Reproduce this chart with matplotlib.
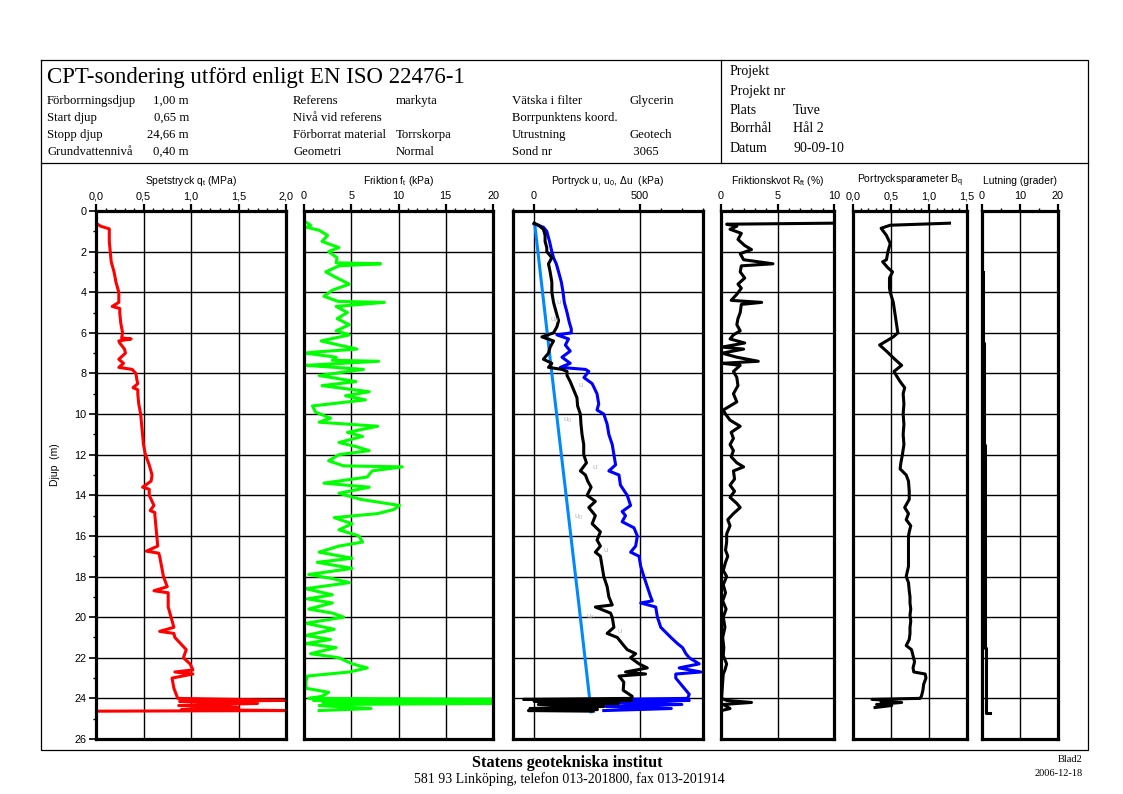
import matplotlib
matplotlib.use("Agg")
import matplotlib.pyplot as plt
import numpy as np

W, H = 1123, 794

# Spetstryck qt (MPa)
qt_depth = [0.60, 0.75, 0.88, 1.0, 1.5, 2.0, 2.5, 3.0, 3.5, 4.0, 4.5, 4.7, 4.8, 5.0, 5.5, 6.0,
            6.25, 6.3, 6.4, 6.5, 6.8, 7.0, 7.3, 7.5, 7.7, 7.8, 8.0, 8.3, 8.5, 8.7, 8.8, 9.0,
            9.5, 10.0, 10.5, 11.0, 11.5, 12.0, 12.5, 13.0, 13.3, 13.6, 13.7, 14.0, 14.5, 14.75,
            14.85, 15.0, 15.5, 16.0, 16.5, 16.75, 16.85, 17.0, 17.5, 18.0, 18.5, 18.7, 18.8,
            19.0, 19.5, 20.0, 20.5, 20.7, 20.8, 21.0, 21.3, 21.6, 22.0, 22.3, 22.6, 22.7, 22.8,
            23.0, 23.5, 24.0, 24.1, 24.15, 24.25, 24.35, 24.45, 24.55, 24.6, 24.63]
qt_value = [0.00, 0.05, 0.14, 0.14, 0.14, 0.15, 0.16, 0.19, 0.21, 0.24, 0.24, 0.17, 0.25, 0.25,
            0.26, 0.28, 0.27, 0.37, 0.24, 0.25, 0.30, 0.31, 0.24, 0.29, 0.24, 0.38, 0.42, 0.43,
            0.44, 0.39, 0.44, 0.44, 0.45, 0.47, 0.48, 0.49, 0.50, 0.52, 0.56, 0.59, 0.58, 0.49,
            0.56, 0.56, 0.61, 0.57, 0.62, 0.62, 0.63, 0.64, 0.65, 0.53, 0.66, 0.67, 0.69, 0.71,
            0.75, 0.61, 0.76, 0.76, 0.76, 0.79, 0.82, 0.67, 0.82, 0.83, 0.89, 0.95, 0.92, 0.99,
            1.02, 0.83, 1.02, 0.80, 0.82, 0.86, 2.00, 0.88, 1.70, 0.87, 1.50, 0.90, 2.00, 0.00]

# Friktion ft (kPa)
ft_depth = [0.55, 0.70, 0.80, 0.95, 1.20, 1.50, 1.80, 2.00, 2.30, 2.55, 2.60, 2.70, 3.00, 3.30,
            3.60, 3.90, 4.20, 4.45, 4.50, 4.70, 5.00, 5.30, 5.60, 5.90, 6.10, 6.40, 6.60, 6.80,
            6.95, 7.00, 7.20, 7.35, 7.40, 7.60, 7.80, 8.10, 8.40, 8.60, 8.90, 9.10, 9.30, 9.60,
            9.90, 10.20, 10.40, 10.60, 10.90, 11.10, 11.40, 11.60, 11.80, 12.00, 12.30, 12.55,
            12.60, 12.80, 13.10, 13.40, 13.60, 13.90, 14.20, 14.50, 14.70, 14.90, 15.10, 15.40,
            15.70, 16.00, 16.30, 16.50, 16.80, 17.10, 17.30, 17.60, 17.90, 18.10, 18.30, 18.60,
            18.90, 19.10, 19.30, 19.60, 19.80, 20.00, 20.30, 20.60, 20.90, 21.10, 21.30, 21.50,
            21.80, 22.00, 22.30, 22.50, 22.70, 22.90, 23.20, 23.50, 23.70, 23.90, 24.00, 24.05,
            24.10, 24.15, 24.20, 24.25, 24.30, 24.35, 24.50, 24.60]
ft_value = [0.2, 0.7, 0.3, 1.6, 2.5, 1.9, 3.7, 2.6, 3.5, 3.4, 8.1, 3.7, 2.3, 3.5, 4.8, 3.0, 2.1,
            3.6, 8.5, 3.4, 4.6, 3.5, 4.8, 3.4, 4.8, 1.8, 3.7, 5.6, 1.0, 0.2, 3.4, 3.0, 7.9, 0.2,
            6.3, 1.6, 5.5, 1.9, 6.9, 4.4, 6.5, 0.9, 1.2, 2.8, 1.6, 7.8, 4.6, 6.2, 3.7, 5.5, 6.9,
            3.7, 2.6, 4.2, 10.4, 7.2, 6.7, 2.1, 6.9, 3.7, 6.0, 10.1, 9.5, 7.8, 3.2, 5.1, 3.7,
            5.8, 6.2, 3.7, 1.6, 5.1, 1.4, 5.1, 0.5, 3.0, 4.8, 0.2, 3.0, 0.35, 3.0, 0.5, 3.0,
            4.2, 0.2, 3.2, 0.2, 2.8, 0.2, 3.4, 0.7, 3.7, 5.1, 6.7, 4.8, 0.35, 0.2, 0.2, 2.6,
            1.9, 0.5, 20.0, 1.0, 20.0, 2.0, 20.0, 3.0, 1.6, 7.1, 1.6]

# Portryck u (kPa)
u_depth = [0.63, 0.80, 1.00, 1.50, 2.00, 2.30, 2.60, 3.00, 3.50, 4.00, 4.50, 5.00, 5.50, 5.80,
           6.00, 6.10, 6.30, 6.60, 6.90, 7.20, 7.50, 7.70, 7.80, 7.90, 8.20, 8.50, 9.00, 9.50,
           9.80, 10.00, 10.50, 11.00, 11.50, 12.00, 12.50, 12.80, 13.00, 13.50, 14.00, 14.50,
           14.80, 15.00, 15.30, 15.60, 16.00, 16.50, 16.80, 17.00, 17.50, 18.00, 18.50, 19.00,
           19.20, 19.30, 19.50, 20.00, 20.50, 21.00, 21.30, 21.50, 21.80, 22.00, 22.30, 22.50,
           22.70, 22.80, 23.00, 23.30, 23.60, 23.80, 24.00, 24.05, 24.10, 24.20, 24.30, 24.40,
           24.50, 24.60]
u_value = [0, 44, 60, 73, 84, 92, 105, 116, 129, 137, 143, 156, 167, 176, 176, 108, 163, 148,
           171, 132, 171, 124, 243, 259, 236, 275, 298, 306, 298, 330, 346, 354, 370, 378, 386,
           354, 402, 409, 441, 457, 417, 433, 417, 473, 489, 481, 457, 497, 505, 520, 536, 552,
           560, 505, 576, 584, 600, 648, 679, 703, 719, 735, 782, 687, 790, 671, 671, 695, 719,
           735, 727, 340, 735, 350, 700, 340, 650, 330]

# Portryck, svart kurva (kPa)
du_depth = [0.60, 0.70, 0.90, 1.20, 1.50, 1.80, 2.00, 2.30, 2.60, 3.00, 3.50, 4.00, 4.50, 5.00,
            5.40, 5.70, 6.00, 6.20, 6.40, 6.70, 7.00, 7.30, 7.50, 7.70, 7.80, 7.90, 8.10, 8.40,
            8.80, 9.20, 9.60, 10.00, 10.50, 11.00, 11.50, 12.00, 12.40, 12.80, 13.00, 13.30,
            13.60, 14.00, 14.30, 14.60, 15.00, 15.40, 15.80, 16.20, 16.50, 16.80, 17.00, 17.50,
            18.00, 18.50, 19.00, 19.40, 19.50, 19.80, 20.00, 20.50, 20.80, 21.00, 21.30, 21.60,
            21.80, 22.00, 22.30, 22.50, 22.70, 22.80, 22.90, 23.20, 23.60, 23.90, 24.00, 24.05,
            24.10, 24.15, 24.25, 24.30, 24.40, 24.50, 24.55, 24.60, 24.63]
du_value = [0, 21, 44, 52, 52, 60, 60, 84, 68, 76, 84, 84, 92, 105, 116, 108, 92, 37, 92, 76,
            68, 44, 84, 68, 132, 156, 156, 171, 187, 203, 206, 219, 222, 227, 235, 235, 248,
            219, 243, 254, 270, 251, 290, 259, 290, 275, 314, 298, 314, 290, 314, 322, 330, 346,
            354, 370, 290, 362, 370, 378, 346, 394, 417, 441, 481, 457, 497, 536, 433, 528, 402,
            425, 422, 465, 460, -50, 460, 0, 400, 20, 330, -20, 300, -27, 280]

# u0 (kPa)
u0_depth = [0.65, 8.0, 20.0, 24.66]
u0_value = [3, 84, 219, 270]

# Friktionskvot Rft (%)
rf_depth = [0.60, 0.65, 0.75, 0.90, 1.10, 1.40, 1.70, 1.90, 2.10, 2.40, 2.60, 2.70, 3.00, 3.30,
            3.60, 3.80, 4.10, 4.40, 4.50, 4.60, 5.00, 5.30, 5.60, 5.90, 6.10, 6.30, 6.50, 6.70,
            6.80, 7.00, 7.20, 7.40, 7.50, 7.60, 7.90, 8.20, 8.60, 9.00, 9.40, 9.80, 10.00,
            10.30, 10.60, 10.90, 11.20, 11.50, 11.80, 12.10, 12.40, 12.60, 12.80, 13.20, 13.50,
            13.80, 14.10, 14.40, 14.60, 14.90, 15.20, 15.50, 15.90, 16.30, 16.70, 17.00, 17.30,
            17.70, 18.00, 18.40, 18.80, 19.20, 19.60, 20.00, 20.50, 21.00, 21.50, 21.90, 22.30,
            22.60, 22.80, 23.20, 23.60, 24.00, 24.10, 24.20, 24.30, 24.50, 24.60]
rf_value = [9.9, 0.5, 1.4, 0.8, 1.8, 1.5, 2.1, 2.7, 1.7, 2.0, 4.6, 1.8, 1.7, 2.1, 1.5, 1.8, 1.4,
            0.9, 3.6, 1.8, 1.7, 1.5, 1.4, 1.7, 1.1, 0.8, 2.1, 0.1, 2.0, 0.1, 1.4, 3.3, 0.1, 1.7,
            1.1, 1.4, 1.5, 1.1, 1.4, 0.2, 0.4, 0.8, 1.7, 0.9, 1.1, 0.8, 1.1, 0.9, 1.4, 2.0, 1.1,
            1.2, 0.8, 1.2, 0.8, 1.4, 1.7, 1.1, 0.6, 0.8, 0.5, 0.5, 0.4, 0.6, 0.4, 0.2, 0.5, 0.2,
            0.4, 0.15, 0.45, 0.2, 0.35, 0.15, 0.25, 0.2, 0.5, 0.35, 0.2, 0.15, 0.1, 0.05, 0.5,
            2.7, 0.2, 0.8, 0.05]

# Portrycksparameter Bq (-)
bq_depth = [0.60, 0.70, 0.85, 1.20, 1.60, 2.00, 2.40, 2.50, 2.80, 3.00, 3.30, 3.80, 4.00, 4.50,
            5.00, 5.50, 6.00, 6.20, 6.60, 6.90, 7.30, 7.60, 7.90, 8.10, 8.40, 8.70, 9.00, 9.50,
            10.00, 10.50, 11.00, 11.50, 12.00, 12.40, 12.70, 13.00, 13.30, 13.80, 14.20, 14.60,
            14.90, 15.20, 15.50, 15.80, 16.00, 16.50, 17.00, 17.50, 18.00, 18.30, 18.70, 19.00,
            19.30, 19.60, 19.90, 20.20, 20.50, 20.80, 21.10, 21.40, 21.60, 21.90, 22.20, 22.50,
            22.70, 22.80, 23.00, 23.30, 23.60, 23.90, 24.00, 24.05, 24.10, 24.15, 24.20, 24.30,
            24.35, 24.45]
bq_value = [1.27, 0.49, 0.37, 0.44, 0.49, 0.46, 0.44, 0.39, 0.46, 0.52, 0.48, 0.48, 0.49, 0.53,
            0.55, 0.57, 0.59, 0.53, 0.35, 0.44, 0.55, 0.64, 0.54, 0.57, 0.62, 0.68, 0.66, 0.67,
            0.66, 0.67, 0.66, 0.67, 0.65, 0.63, 0.62, 0.70, 0.73, 0.74, 0.74, 0.68, 0.73, 0.70,
            0.76, 0.74, 0.73, 0.73, 0.73, 0.73, 0.70, 0.73, 0.74, 0.75, 0.75, 0.76, 0.75, 0.76,
            0.75, 0.75, 0.74, 0.70, 0.77, 0.79, 0.81, 0.79, 0.80, 0.95, 0.96, 0.93, 0.92, 0.90,
            0.88, 0.25, 0.48, 0.37, 0.64, 0.31, 0.51, 0.29]

# Lutning (grader)
lut_depth = [3.0, 6.5, 6.5, 11.5, 11.5, 16.6, 16.6, 21.5, 21.5, 24.7, 24.7]
lut_value = [0.2, 0.2, 0.4, 0.4, 0.7, 0.7, 0.9, 0.9, 1.15, 1.15, 2.2]

# grå etiketter i portrycksdiagrammet
u_tags = ["u", "u$_0$", "u", "u$_0$", "u", "u$_0$", "u", "u$_0$", "u"]
u_tag_val = [108, 76, 211, 135, 275, 187, 330, 246, 394]
u_tag_depth = [4.5, 5.4, 8.6, 10.3, 12.65, 15.1, 16.7, 20.0, 20.7]

SANS = ["Liberation Sans", "DejaVu Sans"]
SERIF = ["Liberation Serif", "DejaVu Serif"]


def panel(fig, x0, x1, xlim, major, labels, minor, title, first=False):
    y0, y1 = 211, 739
    ax = fig.add_axes([x0 / W, 1 - y1 / H, (x1 - x0) / W, (y1 - y0) / H])
    ax.set_xlim(*xlim)
    ax.set_ylim(26, 0)
    ax.xaxis.tick_top()
    ax.set_xticks(major)
    ax.set_xticklabels(labels, family=SANS)
    ax.set_xticks(minor, minor=True)
    ax.set_yticks(np.arange(0, 27, 2))
    ax.grid(True, which="major", color="k", lw=1.0)
    ax.tick_params(axis="x", which="major", direction="out", length=5, width=1.6,
                   pad=2, labelsize=7.8)
    ax.tick_params(axis="x", which="minor", direction="out", length=2.5, width=1.0)
    for s in ax.spines.values():
        s.set_linewidth(2.3)
    if first:
        ax.set_yticks(np.arange(1, 26, 2), minor=True)
        ax.set_yticklabels([str(v) for v in range(0, 27, 2)], family=SANS)
        ax.tick_params(axis="y", which="major", direction="out", length=5, width=1.2,
                       pad=2, labelsize=7.8)
        ax.tick_params(axis="y", which="minor", direction="out", length=2.5, width=1.0)
    else:
        ax.tick_params(axis="y", which="both", left=False, labelleft=False)
    ax.text(0.5, 1 + 30 / 528, title, transform=ax.transAxes, ha="center", va="center",
            fontsize=7.5, family=SANS)
    return ax


def main():
    plt.rcParams["mathtext.fontset"] = "custom"
    plt.rcParams["mathtext.rm"] = "Liberation Sans"
    plt.rcParams["mathtext.default"] = "regular"

    fig = plt.figure(figsize=(W / 100, H / 100), dpi=100)

    # bakgrund i pixelkoordinater
    bg = fig.add_axes([0, 0, 1, 1])
    bg.set_xlim(0, W)
    bg.set_ylim(H, 0)
    bg.axis("off")
    bg.plot([41, 1088, 1088, 41, 41], [60, 60, 750, 750, 60], color="k", lw=0.9)
    bg.plot([41, 1088], [163, 163], color="k", lw=0.9)
    bg.plot([721, 721], [60, 163], color="k", lw=0.9)

    bg.text(47, 77, "CPT-sondering utförd enligt EN ISO 22476-1", fontsize=16.5,
            family=SERIF, va="center")
    rows = [101, 118, 135, 152]
    col1 = ["Förborrningsdjup", "Start djup", "Stopp djup", "Grundvattennivå"]
    col1v = ["1,00 m", "0,65 m", "24,66 m", "0,40 m"]
    col2 = ["Referens", "Nivå vid referens", "Förborrat material", "Geometri"]
    col2v = ["markyta", "", "Torrskorpa", "Normal"]
    col3 = ["Vätska i filter", "Borrpunktens koord.", "Utrustning", "Sond nr"]
    col3v = ["Glycerin", "", "Geotech", " 3065"]
    fs = 9.2
    for i, y in enumerate(rows):
        bg.text(47, y, col1[i], fontsize=fs, family=SERIF, va="center")
        bg.text(189, y, col1v[i], fontsize=fs, family=SERIF, va="center", ha="right")
        bg.text(293, y, col2[i], fontsize=fs, family=SERIF, va="center")
        bg.text(396, y, col2v[i], fontsize=fs, family=SERIF, va="center")
        bg.text(512, y, col3[i], fontsize=fs, family=SERIF, va="center")
        bg.text(630, y, col3v[i], fontsize=fs, family=SERIF, va="center")

    right_lab = ["Projekt", "Projekt nr", "Plats", "Borrhål", "Datum"]
    right_val = ["", "", "Tuve", "Hål 2", "90-09-10"]
    for i, y in enumerate([72, 91, 110, 129, 148]):
        bg.text(730, y, right_lab[i], fontsize=10, family=SERIF, va="center")
        bg.text(793, y, right_val[i], fontsize=10, family=SERIF, va="center")

    bg.text(567, 763, "Statens geotekniska institut", fontsize=11.7, family=SERIF,
            weight="bold", ha="center", va="center")
    bg.text(569, 779, "581 93 Linköping, telefon 013-201800, fax 013-201914", fontsize=10,
            family=SERIF, ha="center", va="center")
    bg.text(1083, 759, "Blad2", fontsize=7.5, family=SERIF, ha="right", va="center")
    bg.text(1083, 774, "2006-12-18", fontsize=7.5, family=SERIF, ha="right", va="center")
    bg.text(55, 465, "Djup  (m)", fontsize=7.5, family=SANS, rotation=90,
            ha="center", va="center")

    lw = 2.2
    ax1 = panel(fig, 96, 286, (0, 2.0), [0, 0.5, 1.0, 1.5, 2.0],
                ["0,0", "0,5", "1,0", "1,5", "2,0"], np.arange(0, 2.01, 0.1),
                "Spetstryck q$_t$ (MPa)", first=True)
    ax1.plot(qt_value, qt_depth, color="#ff0000", lw=lw)

    ax2 = panel(fig, 304, 493, (0, 20), [0, 5, 10, 15, 20],
                ["0", "5", "10", "15", "20"], np.arange(0, 21, 1),
                "Friktion f$_t$ (kPa)")
    ax2.plot(ft_value, ft_depth, color="#00ff00", lw=lw)

    ax3 = panel(fig, 513, 703, (-100, 800), [0, 500], ["0", "500"],
                np.arange(-100, 801, 100), "Portryck u, u$_0$, Δu  (kPa)")
    ax3.plot(u0_value, u0_depth, color="#0088ff", lw=lw)
    ax3.plot(u_value, u_depth, color="#0000ff", lw=lw)
    ax3.plot(du_value, du_depth, color="k", lw=lw)
    for t, v, d in zip(u_tags, u_tag_val, u_tag_depth):
        ax3.text(v, d, t, fontsize=5.5, color="#b8b8b8", family=SANS, va="center")

    ax4 = panel(fig, 721, 834, (0, 10), [0, 5, 10], ["0", "5", "10"],
                np.arange(0, 11, 1), "Friktionskvot R$_{ft}$ (%)")
    ax4.plot(rf_value, rf_depth, color="k", lw=lw)

    ax5 = panel(fig, 853, 967, (0, 1.5), [0, 0.5, 1.0, 1.5],
                ["0,0", "0,5", "1,0", "1,5"], np.arange(0, 1.51, 0.1),
                "Portrycksparameter B$_q$")
    ax5.plot(bq_value, bq_depth, color="k", lw=lw)

    ax6 = panel(fig, 982, 1058, (0, 20), [0, 10, 20], ["0", "10", "20"],
                [0, 5, 10, 15, 20], "Lutning (grader)")
    ax6.plot(lut_value, lut_depth, color="k", lw=lw)

    fig.savefig("out.png", dpi=100)


if __name__ == "__main__":
    main()
